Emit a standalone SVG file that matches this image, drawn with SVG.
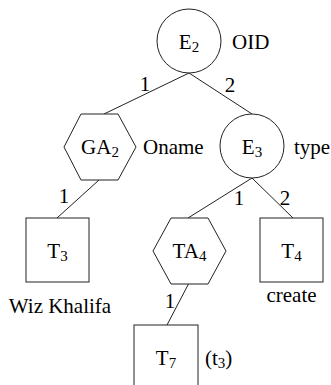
<svg xmlns="http://www.w3.org/2000/svg" width="331" height="385" viewBox="0 0 331 385" font-family="'Liberation Serif', 'DejaVu Serif', 'Times New Roman', serif">
  <style>
    .shape { fill: #ffffff; stroke: #222222; stroke-width: 1; }
    .edge { stroke: #222222; stroke-width: 1; fill: none; }
    text { font-family: 'Liberation Serif', 'DejaVu Serif', 'Times New Roman', serif; font-size: 21px; fill: #000000; }
    .mid { text-anchor: middle; }
    .sub { font-size: 15px; }
  </style>
  <rect width="331" height="385" fill="#ffffff"/>

  <g id="connectors">
    <line class="edge" x1="189" y1="73" x2="104" y2="114"/>
    <line class="edge" x1="189" y1="73" x2="252" y2="114"/>
    <line class="edge" x1="99" y1="180" x2="57" y2="218"/>
    <line class="edge" x1="252" y1="178" x2="188" y2="218"/>
    <line class="edge" x1="252" y1="178" x2="293" y2="218"/>
    <line class="edge" x1="189" y1="283" x2="167" y2="325"/>
    <text x="145" y="91" class="mid">1</text>
    <text x="230" y="92" class="mid">2</text>
    <text x="64" y="203" class="mid">1</text>
    <text x="239" y="205" class="mid">1</text>
    <text x="285" y="205" class="mid">2</text>
    <text x="170" y="308" class="mid">1</text>
  </g>

  <g id="E2">
    <circle class="shape" cx="189" cy="41" r="32"/>
    <text x="189" y="49" class="mid">E<tspan class="sub" dy="3">2</tspan></text>
    <text x="232" y="49">OID</text>
  </g>

  <g id="GA2">
    <polygon class="shape" points="64,147 81,114 118,114 136,147 118,180 81,180"/>
    <text x="100" y="154" class="mid">GA<tspan class="sub" dy="3">2</tspan></text>
    <text x="143" y="154">Oname</text>
  </g>

  <g id="E3">
    <circle class="shape" cx="252" cy="146" r="32"/>
    <text x="252" y="154" class="mid">E<tspan class="sub" dy="3">3</tspan></text>
    <text x="294" y="154">type</text>
  </g>

  <g id="T3">
    <rect class="shape" x="26" y="218" width="63" height="64"/>
    <text x="57.5" y="258" class="mid">T<tspan class="sub" dy="3">3</tspan></text>
    <text x="60" y="313" class="mid">Wiz Khalifa</text>
  </g>

  <g id="TA4">
    <polygon class="shape" points="153,251 171,218 208,218 226,251 208,284 171,284"/>
    <text x="189.5" y="258" class="mid">TA<tspan class="sub" dy="3">4</tspan></text>
  </g>

  <g id="T4">
    <rect class="shape" x="260" y="218" width="63" height="64"/>
    <text x="291.5" y="258" class="mid">T<tspan class="sub" dy="3">4</tspan></text>
    <text x="291.5" y="302" class="mid">create</text>
  </g>

  <g id="T7">
    <rect class="shape" x="134" y="325" width="64" height="70"/>
    <text x="166" y="365" class="mid">T<tspan class="sub" dy="3">7</tspan></text>
    <text x="205" y="365">(t<tspan class="sub" dy="3">3</tspan><tspan dy="-3">)</tspan></text>
  </g>
</svg>
